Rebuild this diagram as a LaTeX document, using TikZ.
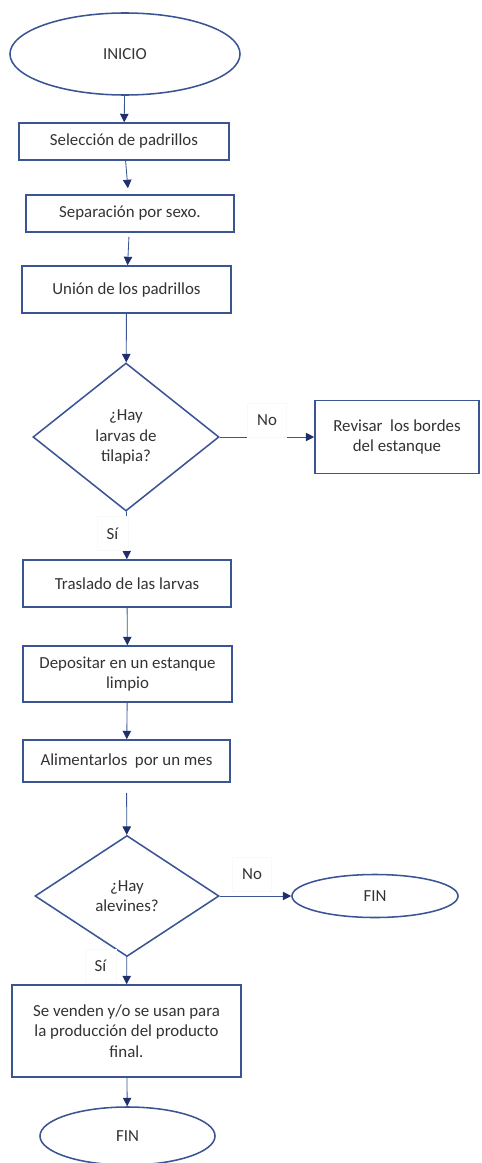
\documentclass[tikz,border=0pt]{standalone}
\usepackage{fontspec}
\setmainfont{Carlito}
\usetikzlibrary{shapes.geometric,arrows.meta}
\definecolor{borde}{HTML}{3A5494}
\definecolor{punta}{HTML}{1F2F6E}
\definecolor{texto}{HTML}{333333}
\begin{document}
\begin{tikzpicture}[x=0.025cm,y=-0.025cm,
    font=\fontsize{12}{14.6}\selectfont,text=texto,
    caja/.style={draw=borde,line width=1.1pt,rectangle,align=center,inner sep=2pt},
    rombo/.style={draw=borde,line width=1.1pt,diamond,align=center,inner sep=0pt},
    elipse/.style={draw=borde,line width=1.1pt,ellipse,inner sep=0pt},
    flecha/.style={draw=borde,line width=0.6pt,-{Triangle[color=punta,length=6pt,width=6pt]}},
    etiqueta/.style={fill=white,draw=gray!5,inner xsep=7pt,inner ysep=0pt,minimum height=0.85cm}]
    \useasboundingbox (0,0) rectangle (481,1163);
    % nodos
    \node[elipse,minimum width=5.75cm,minimum height=2.05cm] (inicio) at (125,54) {INICIO};
    \node[caja,minimum width=5.25cm,minimum height=0.925cm] (sel) at (124,141.5) {Selección de padrillos};
    \node[caja,minimum width=5.2cm,minimum height=0.925cm] (sep) at (130,213.5) {Separación por sexo.};
    \node[caja,minimum width=5.225cm,minimum height=1.175cm] (union) at (126.5,289.5) {Unión de los padrillos};
    \node[rombo,minimum width=4.65cm,minimum height=3.7cm] (larvas) at (126,437) {¿Hay\\larvas de\\tilapia?};
    \node[caja,minimum width=4.1cm,minimum height=1.825cm] (revisar) at (397,437) {Revisar\ \ los bordes\\del estanque};
    \node[caja,minimum width=5.2cm,minimum height=1.175cm] (traslado) at (127,583.5) {Traslado de las larvas};
    \node[caja,minimum width=5.225cm,minimum height=1.4cm] (deposito) at (127.5,674) {Depositar en un estanque\\limpio};
    \node[caja,minimum width=5.175cm,minimum height=1.05cm] (alimento) at (126.5,761) {Alimentarlos\ \ por un mes};
    \node[rombo,minimum width=4.6cm,minimum height=3.025cm] (alevines) at (127,896) {¿Hay\\alevines?};
    \node[elipse,minimum width=4.15cm,minimum height=1.075cm] (fin1) at (375,896) {FIN};
    \node[caja,minimum width=5.725cm,minimum height=2.3cm] (venta) at (126.5,1031) {Se venden y/o se usan para\\la producción del producto\\final.};
    \node[elipse,minimum width=4.375cm,minimum height=1.45cm] (fin2) at (127.5,1136) {FIN};
    % conectores
    \draw[flecha] (inicio) -- (sel);
    \draw[flecha,shorten >=0.15cm] (sel) -- (sep);
    \draw[flecha,shorten <=0.1cm] (sep) -- (union);
    \draw[flecha] (union) -- (larvas);
    \draw[flecha] (larvas) -- (revisar);
    \draw[flecha] (larvas) -- (traslado);
    \draw[flecha] (traslado) -- (deposito);
    \draw[flecha] (deposito) -- (alimento);
    \draw[flecha,shorten <=0.25cm] (alimento) -- (alevines);
    \draw[flecha] (alevines) -- (fin1);
    \draw[flecha] (alevines) -- (venta);
    \draw[flecha] (venta) -- (fin2);
    % etiquetas
    \node[etiqueta] (no1) at (267,420) {No};
    \node[etiqueta] (si1) at (112.5,533.5) {Sí};
    \node[etiqueta] (no2) at (252,874) {No};
    \node[etiqueta] (si2) at (100.5,966) {Sí};
\end{tikzpicture}
\end{document}
